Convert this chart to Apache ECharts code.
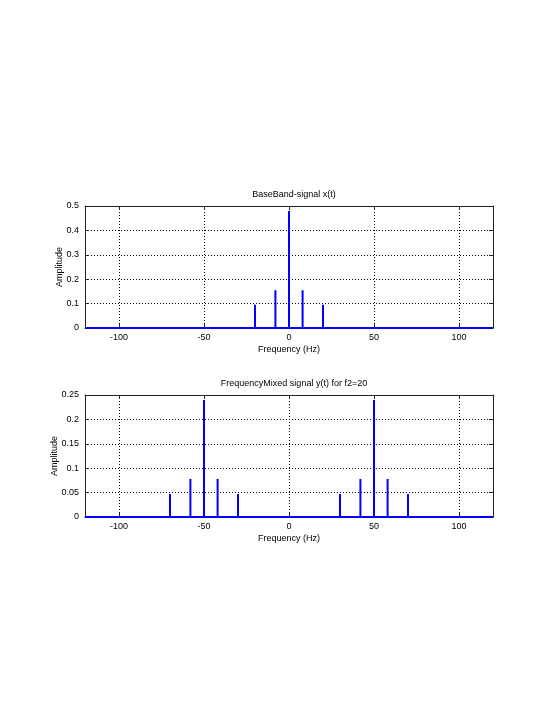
<!DOCTYPE html>
<html>
<head>
<meta charset="utf-8">
<style>
html,body{margin:0;padding:0;background:#fff;}
#chart{width:560px;height:725px;}
</style>
<script src="https://cdn.jsdelivr.net/npm/echarts@6/dist/echarts.min.js"></script>
</head>
<body>
<div id="chart"></div>
<script>
const freqMin = -120, freqMax = 120;
const xTicks = [-100, -50, 0, 50, 100];
const baseFreqs = [-20, -8, 0, 8, 20];
const baseAmps = [0.095, 0.155, 0.48, 0.155, 0.095];
const mixFreqs = [-70, -58, -50, -42, -30, 30, 42, 50, 58, 70];
const mixAmps = [0.047, 0.078, 0.24, 0.078, 0.047, 0.047, 0.078, 0.24, 0.078, 0.047];
const titles = ['BaseBand-signal x(t)', 'FrequencyMixed signal y(t) for f2=20'];

function stems(freqs, amps) {
  const d = [[freqMin, 0]];
  freqs.forEach((f, i) => { d.push([f, 0]); d.push([f, amps[i]]); d.push([f, 0]); });
  d.push([freqMax, 0]);
  return d;
}

const FONT = 'Liberation Sans, Arial, sans-serif';
const chart = echarts.init(document.getElementById('chart'), null, {renderer: 'canvas'});

const grids = [
  {left: 85, right: 67, top: 206, height: 122},
  {left: 85, right: 67, top: 395, height: 122}
];
const yMax = [0.5, 0.25];
const yInt = [0.1, 0.05];
const nameGaps = [21, 26];

const xAxes = [], yAxes = [], series = [], title = [];
grids.forEach((g, i) => {
  title.push({
    text: titles[i], left: 289, top: g.top - 21, textAlign: 'center',
    textStyle: {fontFamily: FONT, fontSize: 9, fontWeight: 'normal', color: '#000'}
  });
  xAxes.push({
    type: 'value', gridIndex: i, min: freqMin, max: freqMax, interval: 10, position: 'bottom',
    name: 'Frequency (Hz)', nameLocation: 'middle', nameGap: 17, nameMoveOverlap: false,
    nameTextStyle: {fontFamily: FONT, fontSize: 9, color: '#000'},
    axisLine: {show: true, onZero: false, lineStyle: {color: '#222', width: 1}},
    axisTick: {show: true, inside: true, length: 4, lineStyle: {color: '#222'}, customValues: xTicks},
    axisLabel: {fontFamily: FONT, fontSize: 9, color: '#000', margin: 5, customValues: xTicks},
    splitLine: {show: false}
  });
  xAxes.push({
    type: 'value', gridIndex: i, min: freqMin, max: freqMax, position: 'top',
    axisLine: {show: true, onZero: false, lineStyle: {color: '#222', width: 1}},
    axisTick: {show: true, inside: true, length: 4, lineStyle: {color: '#222'}, customValues: xTicks},
    axisLabel: {show: false},
    splitLine: {show: true, lineStyle: {color: '#000', type: [1, 2], width: 1}, customValues: xTicks}
  });
  yAxes.push({
    type: 'value', gridIndex: i, min: 0, max: yMax[i], interval: yInt[i], position: 'left',
    name: 'Amplitude', nameLocation: 'middle', nameGap: nameGaps[i], nameRotate: 90, nameMoveOverlap: false,
    nameTextStyle: {fontFamily: FONT, fontSize: 9, color: '#000'},
    axisLine: {show: true, onZero: false, lineStyle: {color: '#222', width: 1}},
    axisTick: {show: true, inside: true, length: 4, lineStyle: {color: '#222'}},
    axisLabel: {fontFamily: FONT, fontSize: 9, color: '#000', margin: 6},
    splitLine: {show: true, lineStyle: {color: '#000', type: [1, 2], width: 1}}
  });
  yAxes.push({
    type: 'value', gridIndex: i, min: 0, max: yMax[i], interval: yInt[i], position: 'right',
    axisLine: {show: true, onZero: false, lineStyle: {color: '#222', width: 1}},
    axisTick: {show: true, inside: true, length: 4, lineStyle: {color: '#222'}},
    axisLabel: {show: false},
    splitLine: {show: false}
  });
  series.push({
    type: 'line', xAxisIndex: i * 2, yAxisIndex: i * 2,
    data: i === 0 ? stems(baseFreqs, baseAmps) : stems(mixFreqs, mixAmps),
    showSymbol: false, symbol: 'none', animation: false,
    lineStyle: {color: '#0000ff', width: 2}, z: 5
  });
});

chart.setOption({
  animation: false,
  backgroundColor: '#fff',
  title: title,
  grid: grids,
  xAxis: xAxes,
  yAxis: yAxes,
  series: series
});
</script>
</body>
</html>
